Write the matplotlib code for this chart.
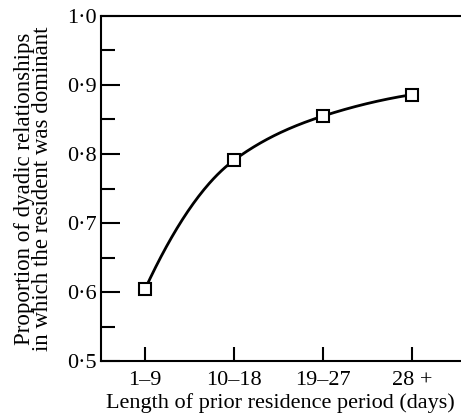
import matplotlib
matplotlib.use("Agg")
import matplotlib.pyplot as plt
import numpy as np

periods = ["1\u20139", "10\u201318", "19\u201327", "28 +"]
proportion = [0.604, 0.791, 0.855, 0.886]


def smooth(xs, ys, n=200):
    # monotone cubic through the points, only for drawing the curve
    xs = np.asarray(xs, float)
    ys = np.asarray(ys, float)
    h = np.diff(xs)
    s = np.diff(ys) / h
    m = np.zeros(len(xs))
    for i in range(1, len(xs) - 1):
        if s[i - 1] * s[i] > 0:
            w1 = 2 * h[i] + h[i - 1]
            w2 = h[i] + 2 * h[i - 1]
            m[i] = (w1 + w2) / (w1 / s[i - 1] + w2 / s[i])
    m[0] = max(0, 2 * s[0] - m[1])
    m[-1] = max(0, 2 * s[-1] - m[-2])
    xx = np.linspace(xs[0], xs[-1], n)
    idx = np.clip(np.searchsorted(xs, xx) - 1, 0, len(xs) - 2)
    t = (xx - xs[idx]) / h[idx]
    h00 = 2 * t ** 3 - 3 * t ** 2 + 1
    h10 = t ** 3 - 2 * t ** 2 + t
    h01 = -2 * t ** 3 + 3 * t ** 2
    h11 = t ** 3 - t ** 2
    yy = (h00 * ys[idx] + h10 * h[idx] * m[idx]
          + h01 * ys[idx + 1] + h11 * h[idx] * m[idx + 1])
    return xx, yy


plt.rcParams["font.family"] = ["Liberation Serif", "DejaVu Serif"]

fig = plt.figure(figsize=(4.61, 4.19), dpi=100)
ax = fig.add_axes([0.219, 0.138, 0.779, 0.824])

x = np.arange(len(periods))
xx, yy = smooth(x, proportion)
ax.plot(xx, yy, color="black", lw=2)
ax.plot(x, proportion, ls="none", marker="s", ms=9, mfc="white", mec="black", mew=1.5)

ax.set_xlim(-0.494, 3.54)
ax.set_ylim(0.5, 1.0)
ax.set_xticks(x)
ax.set_xticklabels(periods)
ax.set_yticks(np.arange(0.5, 1.01, 0.1))
ax.set_yticklabels([f"{v:.1f}".replace(".", "\u00b7") for v in np.arange(0.5, 1.01, 0.1)])
ax.set_yticks(np.arange(0.55, 1.0, 0.1), minor=True)

ax.tick_params(axis="y", which="major", direction="in", length=14, width=1.5, labelsize=16, pad=3)
ax.tick_params(axis="y", which="minor", direction="in", length=10, width=1.5)
ax.tick_params(axis="x", direction="in", length=10, width=1.5, labelsize=16, pad=7)

for side in ["left", "top", "bottom"]:
    ax.spines[side].set_linewidth(1.5)
ax.spines["right"].set_visible(False)

ax.set_ylabel("Proportion of dyadic relationships\nin which the resident was dominant",
              fontsize=16.5, linespacing=0.85, labelpad=10)
ax.set_xlabel("Length of prior residence period (days)", fontsize=16, labelpad=2)

fig.savefig("out.png", dpi=100)
